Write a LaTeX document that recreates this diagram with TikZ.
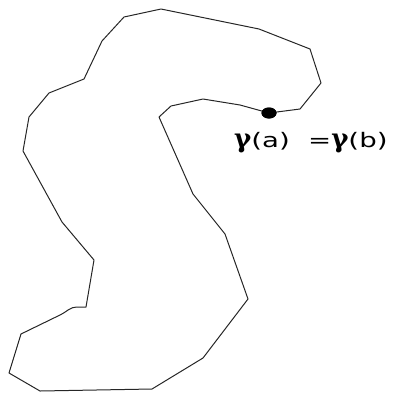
\documentclass[tikz,border=0pt]{standalone}
\usepackage{fontspec}
\newfontfamily\labfont{DejaVu Sans}
\newfontfamily\gamfont{DejaVu Serif}
\newcommand{\gm}{{\gamfont\bfseries\fontsize{26}{26}\selectfont γ}}
\newcommand{\tx}[1]{{\labfont\fontsize{20}{20}\selectfont\scalebox{1.38}[1]{#1}}}
\tikzset{
  curve/.style={line width=1pt, draw=black!85, line join=round},
  dotnode/.style={ellipse, fill=black, inner sep=0pt, minimum width=15pt, minimum height=11pt},
  lab/.style={anchor=base west, inner sep=0pt}
}
\usetikzlibrary{shapes.geometric}
\begin{document}
\begin{tikzpicture}[x=1pt,y=-1pt]
\useasboundingbox (0,0) rectangle (393,392);
\node[dotnode] (p) at (269,113) {};
\draw[curve] (p.center) -- (300,109) -- (321,83) -- (310,49) -- (259,29) -- (161,9)
  -- (124,17) -- (102,41) -- (84,79) -- (49,93) -- (29,117) -- (23,151)
  -- (62,222) -- (94,260) -- (86,307) -- (77,307)
  .. controls (70,307) and (68,311) .. (60,315)
  -- (21,334) -- (9,373) -- (40,391) -- (152,389) -- (203,358) -- (248,299)
  -- (225,234) -- (193,194) -- (159,117) -- (171,106) -- (203,99) -- (240,105) -- (p.center);
\node[dotnode] at (p.center) {};
\node[lab] (ga) at (234,147) {\gm\tx{(a)}};
\node[lab] (gb) at (308,147) {\tx{=}\gm\tx{(b)}};
\end{tikzpicture}
\end{document}
